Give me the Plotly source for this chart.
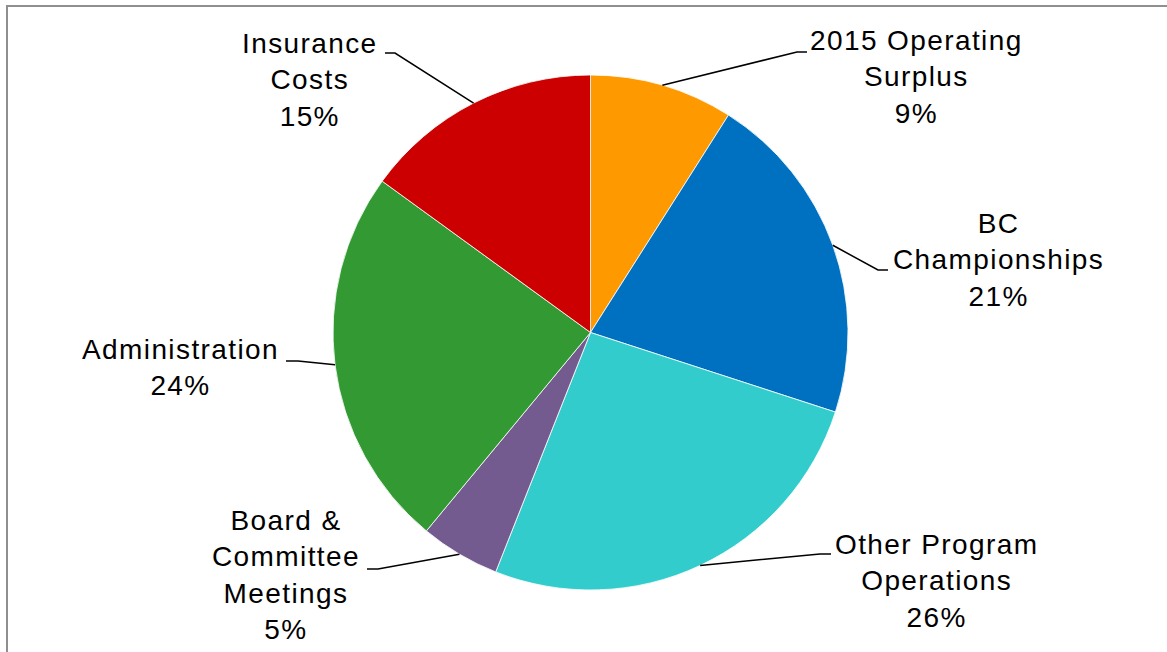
import math
import plotly.graph_objects as go

# ---- data ----
categories = ["2015 Operating Surplus", "BC Championships", "Other Program Operations",
              "Board & Committee Meetings", "Administration", "Insurance Costs"]
label_lines = [["2015 Operating", "Surplus"], ["BC", "Championships"], ["Other Program", "Operations"],
               ["Board &", "Committee", "Meetings"], ["Administration"], ["Insurance", "Costs"]]
values = [9, 21, 26, 5, 24, 15]
colors = ["#FF9900", "#0070C0", "#33CCCC", "#735A8F", "#339933", "#CC0000"]

# ---- layout constants (pixels) ----
W, H = 1167, 652
CX, CY, R = 590.5, 332.5, 257.5
# label block centre, elbow point, line end point (pixels)
label_pos = [(916, 77), (998, 260), (936, 581), (285.5, 575), (180, 367), (310, 80)]
elbows = [(797, 52), (878, 270), (820, 554), (378, 569), (298, 361), (395, 53)]
ends = [(807, 52), (888, 270), (831, 554), (367, 569), (286, 361), (385, 53)]

FONT = "Liberation Sans, Arial, sans-serif"


def px(x, y):
    return x / W, 1 - y / H


fig = go.Figure(go.Pie(
    labels=categories, values=values, sort=False, direction="clockwise", rotation=0,
    marker=dict(colors=colors, line=dict(color="white", width=0.8)),
    textinfo="none", hoverinfo="label+percent",
    domain=dict(x=[(CX - R) / W, (CX + R) / W], y=[1 - (CY + R) / H, 1 - (CY - R) / H]),
))

total = sum(values)
cum = 0
shapes = []
annotations = []
for i, v in enumerate(values):
    mid = (cum + v / 2) / total * 2 * math.pi
    cum += v
    sx, sy = CX + R * math.sin(mid), CY - R * math.cos(mid)
    pts = [px(sx, sy), px(*elbows[i]), px(*ends[i])]
    path = "M {} {} L {} {} L {} {}".format(*[c for p in pts for c in p])
    shapes.append(dict(type="path", xref="paper", yref="paper", path=path,
                       line=dict(color="black", width=1.5)))
    pct = round(v / total * 100)
    lines = label_lines[i] + [f"{pct}%"]
    text = "<br>".join(f'<span style="letter-spacing:1.4px">{l}</span>' for l in lines)
    lx, ly = px(*label_pos[i])
    annotations.append(dict(x=lx, y=ly, xref="paper", yref="paper", text=text, showarrow=False,
                            xanchor="center", yanchor="middle", align="center",
                            font=dict(family=FONT, size=28, color="black")))

# outer frame (only top/left visible)
shapes.append(dict(type="rect", xref="paper", yref="paper", x0=7 / W, x1=1.05, y0=-0.05, y1=1 - 6 / H,
                   line=dict(color="#8F8F8F", width=2), fillcolor="rgba(0,0,0,0)", layer="above"))

fig.update_layout(width=W, height=H, margin=dict(l=0, r=0, t=0, b=0),
                  paper_bgcolor="white", plot_bgcolor="white", showlegend=False,
                  shapes=shapes, annotations=annotations)

fig.write_html("out.html", config={"displayModeBar": False},
               post_script="document.body.style.margin='0';document.body.style.overflow='hidden';")
